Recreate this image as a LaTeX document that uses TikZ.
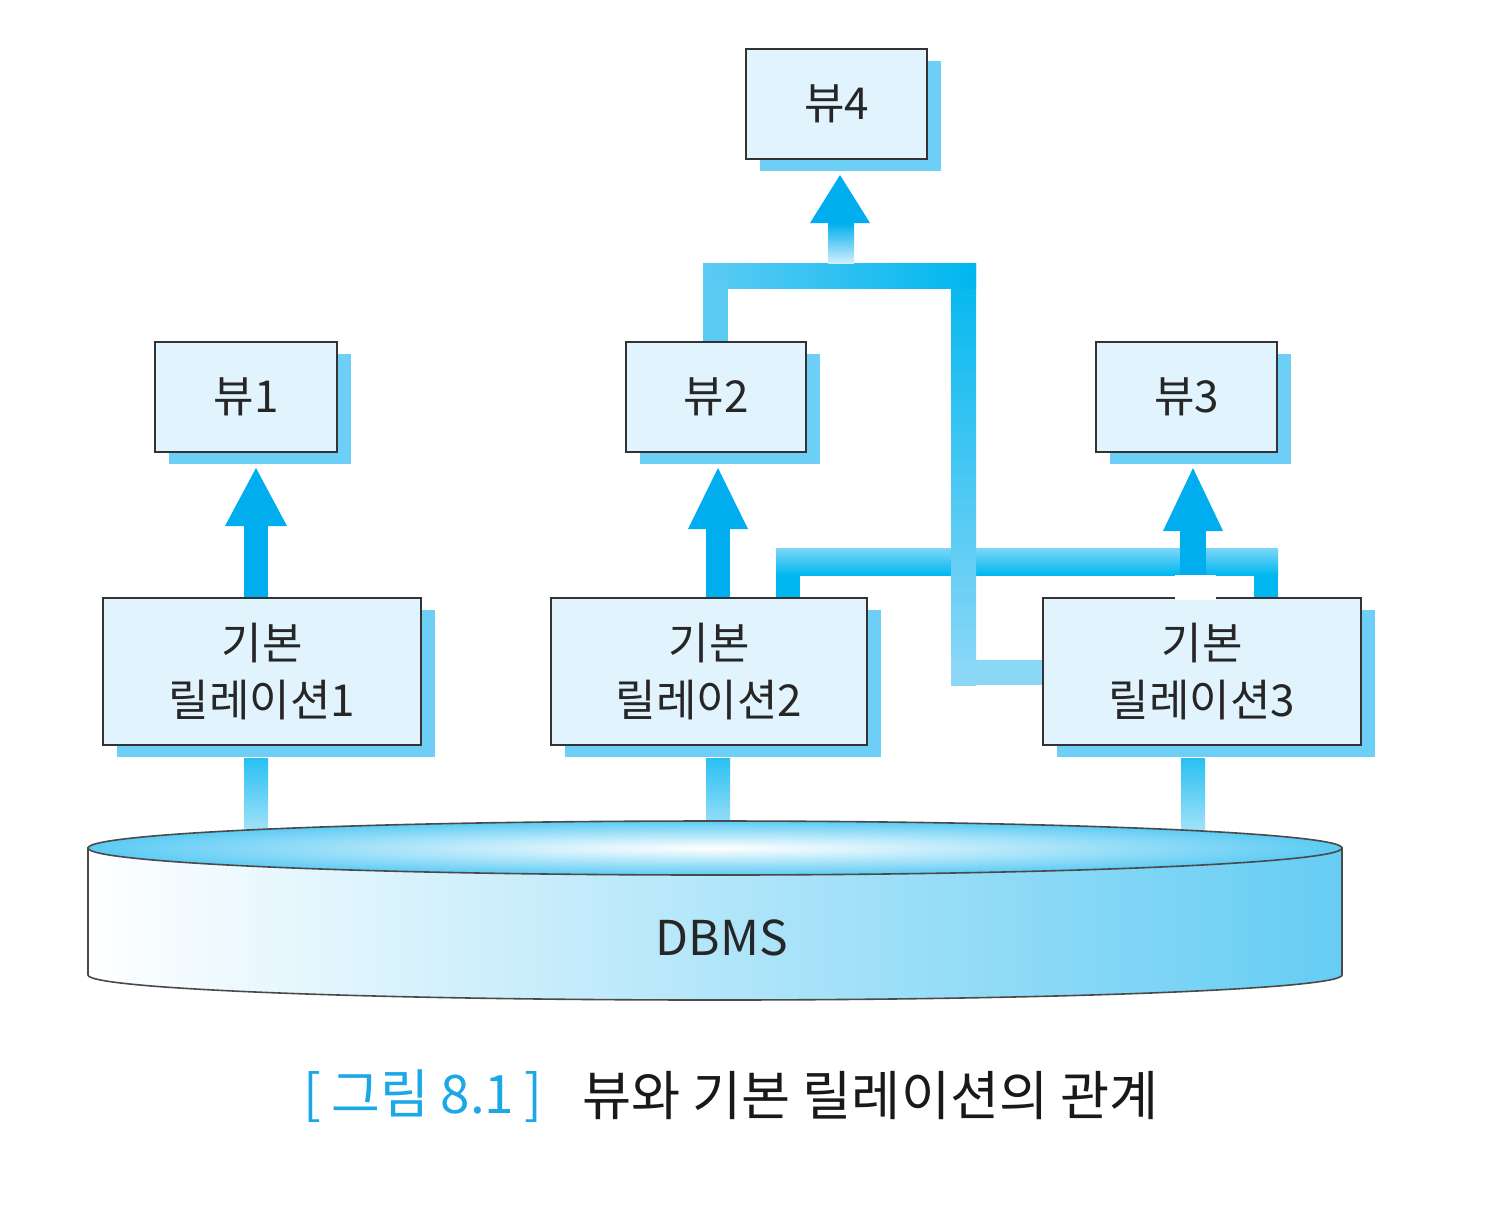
\documentclass[tikz,border=0pt]{standalone}
\usepackage{fontspec}
\setmainfont{Noto Sans CJK KR}
\usetikzlibrary{calc,shadows,backgrounds}
\pgfdeclarelayer{bottom}
\pgfsetlayers{bottom,background,main}
\definecolor{boxfill}{HTML}{E1F3FD}
\definecolor{boxline}{HTML}{333333}
\definecolor{shc}{HTML}{6DCFF6}
\definecolor{headc}{HTML}{00AEEF}
\definecolor{satc}{HTML}{00B7EF}
\definecolor{midc}{HTML}{6ED0F5}
\definecolor{lightc}{HTML}{8ED8F7}
\definecolor{barlight}{HTML}{7DD6F7}
\definecolor{leftc}{HTML}{5CCBF4}
\definecolor{topc}{HTML}{29C0F1}
\definecolor{palec}{HTML}{C4EBFB}
\definecolor{capc}{HTML}{1CA8E6}
\definecolor{diskc}{HTML}{5CCBF4}
\definecolor{diskr}{HTML}{66CDF4}
\definecolor{diskm}{HTML}{C9EAFA}
\definecolor{diskline}{HTML}{4A4A4A}
\tikzset{
  vbox/.style={draw=boxline, line width=1pt, fill=boxfill, inner sep=0pt,
    minimum height=55pt, general shadow={fill=shc, shadow xshift=7pt, shadow yshift=-6pt},
    font=\fontsize{22}{28.5}\selectfont, align=center, text=black!85},
  rbox/.style={vbox, minimum height=73.5pt},
}
\begin{document}
\begin{tikzpicture}[x=0.5pt,y=-0.5pt]
\useasboundingbox (0,0) rectangle (1500,1212);
\begin{pgfonlayer}{bottom}
\fill[white] (0,0) rectangle (1500,1212);
\end{pgfonlayer}

% boxes
\node[vbox, minimum width=90.5pt] (v4) at (836.5,104) {뷰4};
\node[vbox, minimum width=91pt]   (v1) at (246,397) {뷰1};
\node[vbox, minimum width=90pt]   (v2) at (716,397) {뷰2};
\node[vbox, minimum width=90.5pt] (v3) at (1186.5,397) {뷰3};
\node[rbox, minimum width=159pt] (r1) at (262,671.5) {기본\\릴레이션1};
\node[rbox, minimum width=158pt] (r2) at (709,671.5) {기본\\릴레이션2};
\node[rbox, minimum width=159pt] (r3) at (1202,671.5) {기본\\릴레이션3};

\begin{scope}[on background layer]
  % relation -> DBMS connectors
  \shade[top color=topc, bottom color=palec] ($(r1.south)+(-18,12)$) rectangle ($(r1.south)+(6,105)$);
  \shade[top color=topc, bottom color=palec] ($(r2.south)+(-3,12)$) rectangle ($(r2.south)+(21,105)$);
  \shade[top color=topc, bottom color=palec] ($(r3.south)+(-21,12)$) rectangle ($(r3.south)+(3,105)$);

  % relation2 / relation3 -> view3 bar
  \fill[satc] (776,560) rectangle ($(r2.north)+(91,0)$);
  \fill[satc] (1254,560) rectangle ($(r3.north)+(76,0)$);
  \shade[top color=barlight, bottom color=satc] (776,548) rectangle (1278,575);
  \coordinate (j3) at (1193,575);
  \fill[headc] ($(j3)+(-13,0)$) rectangle ($(v3.south)+(19.5,78)$);
  \fill[headc] ($(v3.south)+(-23.5,78)$) -- ($(v3.south)+(6.5,15)$) -- ($(v3.south)+(36.5,78)$) -- cycle;

  % view2 / relation3 -> view4
  \shade[top color=satc, middle color=midc, bottom color=lightc] (951,263) rectangle (976,685);
  \fill[lightc!90!shc] (951,660) rectangle (r3.west |- 0,685);
  \shade[left color=leftc, right color=satc] (703,263) rectangle (976,288);
  \fill[leftc] (703,280) rectangle ($(v2.north)+(12,0)$);
  \coordinate (j4) at (841,263);
  \shade[top color=headc, bottom color=palec!80!white] ($(j4)+(-13,0)$) rectangle ($(v4.south)+(17.5,63)$);
  \fill[headc] ($(v4.south)+(-26.5,63)$) -- ($(v4.south)+(3.5,15)$) -- ($(v4.south)+(33.5,63)$) -- cycle;

  % relation1 -> view1, relation2 -> view2
  \fill[headc] ($(r1.north)+(-18,0)$) rectangle ($(v1.south)+(22,73)$);
  \fill[headc] ($(v1.south)+(-21,73)$) -- ($(v1.south)+(10,15)$) -- ($(v1.south)+(41,73)$) -- cycle;
  \fill[headc] ($(r2.north)+(-3,0)$) rectangle ($(v2.south)+(14,76)$);
  \fill[headc] ($(v2.south)+(-28,76)$) -- ($(v2.south)+(2,15)$) -- ($(v2.south)+(32,76)$) -- cycle;
\end{scope}

% gap in relation3 top border
\fill[white] (1175,575) rectangle (1216,599.5);

% DBMS disk
\shade[left color=white, middle color=diskm, right color=diskr, draw=diskline, line width=0.8pt]
  (88,848) -- (88,975) arc[start angle=180, end angle=0, x radius=627, y radius=25] -- (1342,848) -- cycle;
\shade[inner color=white, outer color=diskc, draw=diskline, line width=0.8pt]
  (715,848) ellipse[x radius=627, y radius=27];
\node[font=\fontsize{24}{28}\selectfont, text=black!85] (db) at (722,938) {DBMS};

% caption
\node[anchor=west, text=capc, font=\fontsize{26.5}{30}\selectfont, inner sep=0pt] (cap1) at (303,1096) {[\hspace{5pt}그림 8.1\hspace{5pt}]};
\node[anchor=west, text=black!90, font=\fontsize{26.7}{30}\selectfont, inner sep=0pt] (cap2) at (582,1096) {뷰와 기본 릴레이션의 관계};
\end{tikzpicture}
\end{document}
